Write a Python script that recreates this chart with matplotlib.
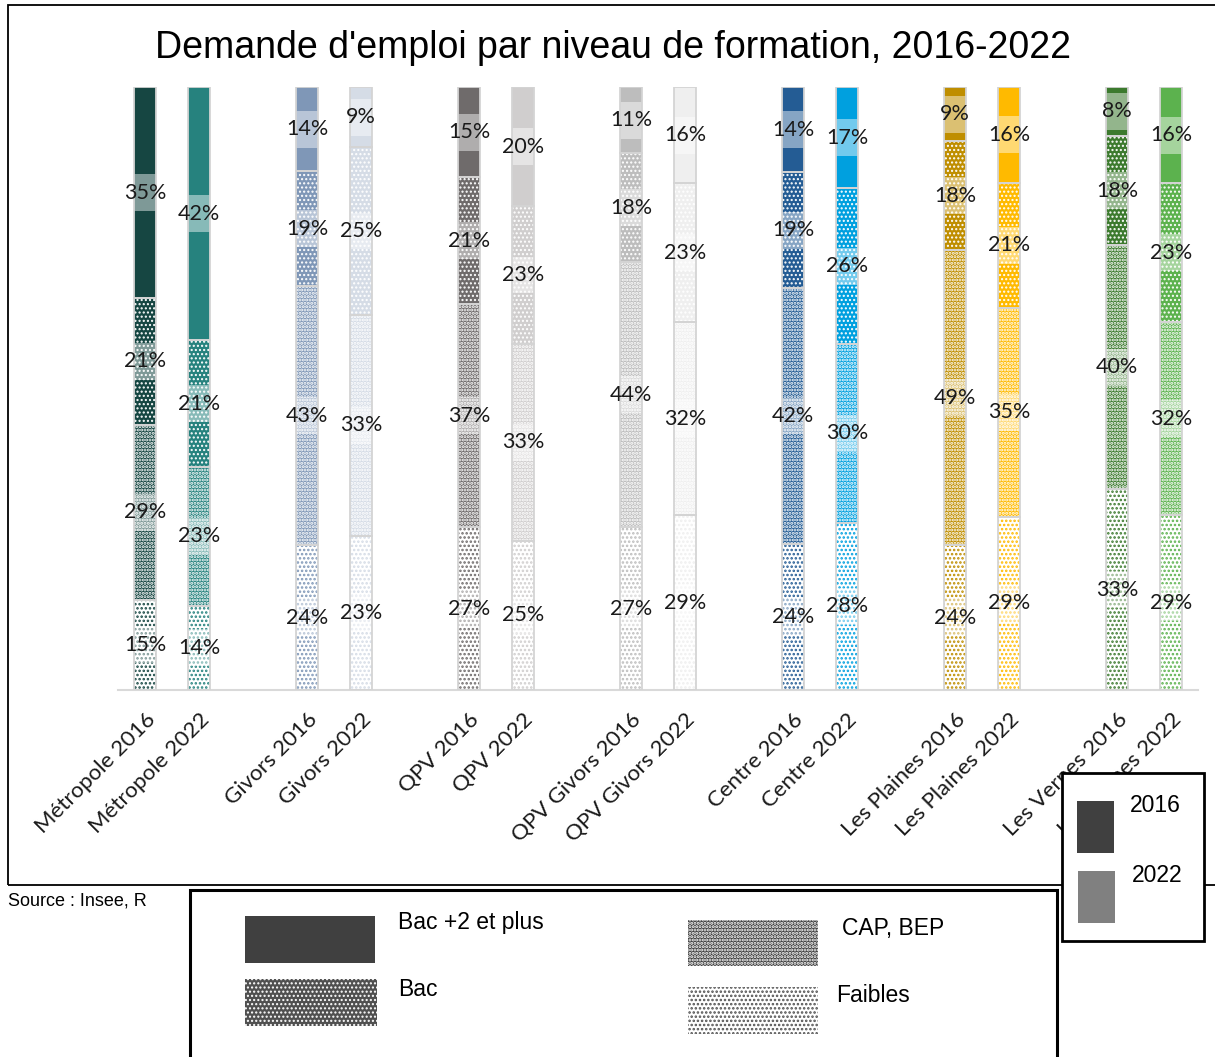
import matplotlib
matplotlib.use("Agg")
import matplotlib.pyplot as plt
from matplotlib.patches import Rectangle

# ---- data -------------------------------------------------------------
bars = ["Métropole 2016", "Métropole 2022", "Givors 2016", "Givors 2022",
        "QPV 2016", "QPV 2022", "QPV Givors 2016", "QPV Givors 2022",
        "Centre 2016", "Centre 2022", "Les Plaines 2016", "Les Plaines 2022",
        "Les Vernes 2016", "Les Vernes 2022"]
levels = ["Faibles", "CAP, BEP", "Bac", "Bac +2 et plus"]
faibles = [15, 14, 24, 23, 27, 25, 27, 29, 24, 28, 24, 29, 33, 29]
cap_bep = [29, 23, 43, 33, 37, 33, 44, 32, 42, 30, 49, 35, 40, 32]
bac     = [21, 21, 19, 25, 21, 23, 18, 23, 19, 26, 18, 21, 18, 23]
bac2    = [35, 42, 14, 9, 15, 20, 11, 16, 14, 17, 9, 16, 8, 16]
bar_colors = ["#164642", "#26827E", "#7F97B7", "#D5DCE6", "#6F6B6B", "#D0CECE",
              "#BDBDBD", "#EFEFEF", "#245C94", "#00A0DF", "#BF8E00", "#FFBA00",
              "#3C7A2E", "#5CB24E"]
years = ["2016", "2022"]

W, H = 1215, 1057
fig = plt.figure(figsize=(W / 100, H / 100), dpi=100)


def fx(x):
    return x / W


def fy(y):
    return 1 - y / H


ax = fig.add_axes([fx(118), fy(690), (1198 - 118) / W, (690 - 87) / H])

pos = [3 * (i // 2) + (i % 2) for i in range(len(bars))]
width = 0.41
series = [faibles, cap_bep, bac, bac2]

# pattern per level: (base face, hatch colour, hatch, hatch linewidth)
def style(level, col):
    if level == 0:
        return "white", col, "....", 1.2
    if level == 1:
        return col, "white", ".....", 1.5
    if level == 2:
        return col, "white", "....", 1.0
    return col, None, None, 0


def add_hatch(patch, lw):
    if hasattr(patch, "set_hatch_linewidth"):
        patch.set_hatch_linewidth(lw)


band_h = 6.1
for i, name in enumerate(bars):
    vals = [s[i] for s in series]
    tot = sum(vals)
    bottom = 0.0
    col = bar_colors[i]
    for lev, v in enumerate(vals):
        h = v / tot * 100
        face, hcol, hatch, hlw = style(lev, col)
        ax.bar(pos[i], h, bottom=bottom, width=width, color=face, lw=0, zorder=2)
        if hatch:
            hb = ax.bar(pos[i], h, bottom=bottom, width=width, facecolor="none",
                        edgecolor=hcol, lw=0, hatch=hatch, zorder=3)
            for p in hb:
                add_hatch(p, hlw)
        mid = bottom + h / 2
        ax.bar(pos[i], band_h, bottom=mid - band_h / 2, width=width,
               color="white", alpha=0.45, lw=0, zorder=4)
        ax.bar(pos[i], h, bottom=bottom, width=width, facecolor="none",
               edgecolor="#D4D4D4", lw=1.3, zorder=5)
        ax.text(pos[i], mid, f"{v}%", ha="center", va="center", fontsize=15.5,
                family="Lato", color="#1A1A1A", zorder=6)
        bottom += h

ax.set_xlim(-0.5, 19.5)
ax.set_ylim(0, 100)
ax.set_yticks([])
ax.set_xticks(pos)
ax.set_xticklabels(bars, rotation=45, ha="right", rotation_mode="anchor",
                   family="Lato", fontsize=16, color="#1A1A1A")
ax.tick_params(axis="x", length=0, pad=14)
for s in ["top", "left", "right"]:
    ax.spines[s].set_visible(False)
ax.spines["bottom"].set_color("#D9D9D9")
ax.spines["bottom"].set_linewidth(1.5)
ax.patch.set_alpha(0)

# ---- frame, title, source -------------------------------------------
fig.add_artist(Rectangle((fx(8), fy(885)), 1.2, (885 - 5) / H,
                         transform=fig.transFigure, fill=False,
                         edgecolor="black", lw=1.3, zorder=0))
fig.text(fx(613), fy(48), "Demande d'emploi par niveau de formation, 2016-2022",
         ha="center", va="center", fontsize=27, family="Liberation Sans")
fig.text(fx(8), fy(901), "Source : Insee, R", ha="left", va="center",
         fontsize=13, family="Liberation Sans")

# ---- level legend ------------------------------------------------------
fig.add_artist(Rectangle((fx(190), fy(1065)), (1057 - 190) / W, (1065 - 890) / H,
                         transform=fig.transFigure, facecolor="white",
                         edgecolor="black", lw=2.2, zorder=10))
swatches = [
    (levels[3], 245, 916, 130, 47, 398, 922),
    (levels[2], 245, 979, 132, 47, 398, 989),
    (levels[1], 688, 920, 130, 46, 842, 928),
    (levels[0], 688, 987, 130, 47, 836, 996),
]
legend_grey = "#404040"
for lab, x, y, w, h, tx, ty in swatches:
    lev = levels.index(lab)
    face, hcol, hatch, hlw = style(lev, legend_grey)
    if lev == 0:
        hcol = "#505050"
    if lev == 2:
        face = "#505050"
    fig.add_artist(Rectangle((fx(x), fy(y + h)), w / W, h / H,
                             transform=fig.transFigure, facecolor=face,
                             lw=0, zorder=11))
    if hatch:
        r = Rectangle((fx(x), fy(y + h)), w / W, h / H,
                      transform=fig.transFigure, facecolor="none",
                      edgecolor=hcol, lw=0, hatch=hatch, zorder=12)
        add_hatch(r, hlw)
        fig.add_artist(r)
    t = fig.text(fx(tx), fy(ty), lab, ha="left", va="center", fontsize=16.5,
                 family="Liberation Sans")
    t.set_zorder(13)

# ---- year legend ---------------------------------------------------------
fig.add_artist(Rectangle((fx(1062), fy(941)), (1204 - 1062) / W, (941 - 773) / H,
                         transform=fig.transFigure, facecolor="white",
                         edgecolor="black", lw=2.0, zorder=10))
for yr, col, x, y, tx, ty in [(years[0], "#404040", 1077, 801, 1130, 806),
                               (years[1], "#808080", 1078, 871, 1132, 876)]:
    fig.add_artist(Rectangle((fx(x), fy(y + 52)), 37 / W, 52 / H,
                             transform=fig.transFigure, facecolor=col,
                             lw=0, zorder=11))
    t = fig.text(fx(tx), fy(ty), yr, ha="left", va="center", fontsize=16.5,
                 family="Liberation Sans")
    t.set_zorder(13)

fig.savefig("out.png", dpi=100)
